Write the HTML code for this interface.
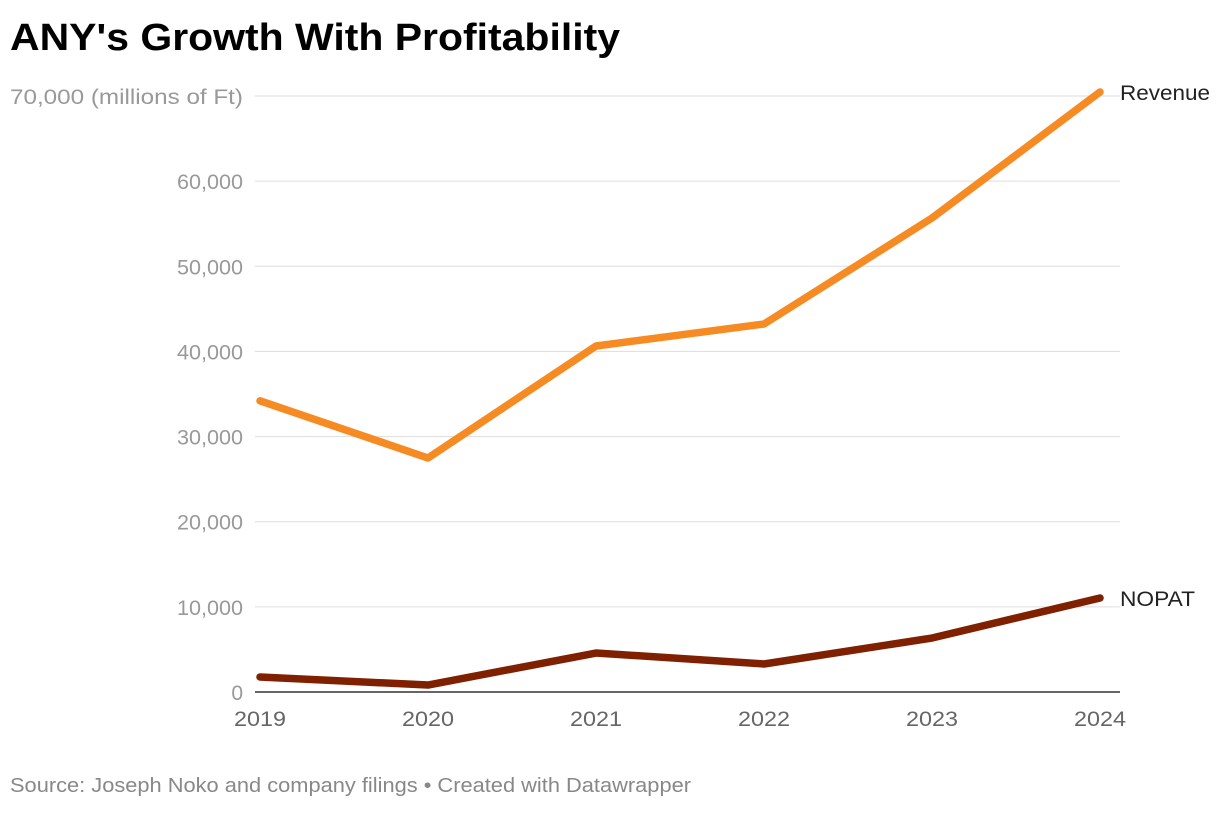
<!DOCTYPE html>
<html><head><meta charset="utf-8"><style>
body{margin:0;background:#fff;width:1220px;height:808px;overflow:hidden;font-family:"Liberation Sans",sans-serif}
</style></head><body>
<svg width="1220" height="808">
<text x="10" y="50" font-size="38" font-weight="bold" fill="#000" textLength="610" lengthAdjust="spacingAndGlyphs">ANY's Growth With Profitability</text>
<g id="grid"></g>
<g id="ylab"></g>
<g id="xlab"></g>
<g id="lines"></g>
<text x="10" y="792" font-size="20" fill="#888" textLength="681" lengthAdjust="spacingAndGlyphs">Source: Joseph Noko and company filings • Created with Datawrapper</text>
</svg>
<script>
const years=['2019','2020','2021','2022','2023','2024'];
const revenue=[34200,27480,40640,43220,55670,70470];
const nopat=[1760,820,4580,3290,6340,11040];
const yTicks=[0,10000,20000,30000,40000,50000,60000,70000];
const NS='http://www.w3.org/2000/svg';
const x=i=>260+i*168;
const y=v=>692-v/70000*596;
function mk(t,a,p){const e=document.createElementNS(NS,t);for(const k in a)e.setAttribute(k,a[k]);p.appendChild(e);return e;}
const g=document.getElementById('grid'),yl=document.getElementById('ylab'),xl=document.getElementById('xlab'),ln=document.getElementById('lines');
yTicks.forEach(v=>{
 const l=mk('line',{x1:255,x2:1120,y1:y(v),y2:y(v),stroke:v===0?'#333':'#ddd','stroke-width':v===0?1.5:1},g);
 
 
 const txt=v.toLocaleString('en-US')+(v===70000?' (millions of Ft)':'');
 const attrs={x:v===70000?10:243,y:y(v)+8,'font-size':21,fill:'#999','text-anchor':v===70000?'start':'end'};
 if(v===70000){attrs.textLength=233;attrs.lengthAdjust='spacingAndGlyphs';}
 else if(v>0){attrs.textLength=66;attrs.lengthAdjust='spacingAndGlyphs';}
 const t=mk('text',attrs,yl);
 t.textContent=txt;
 
 
});
years.forEach((yr,i)=>{
 const t=mk('text',{x:x(i),y:726,'font-size':21,fill:'#666','text-anchor':'middle',textLength:52,lengthAdjust:'spacingAndGlyphs'},xl);
 t.textContent=yr;
 
 
});
function series(vals,color,name,label,w){
 const p=mk('polyline',{points:vals.map((v,i)=>x(i)+','+y(v)).join(' '),fill:'none',stroke:color,'stroke-width':7.5,'stroke-linecap':'round','stroke-linejoin':'round'},ln);
 
 
 const t=mk('text',{x:1120,y:y(vals[vals.length-1])+8,'font-size':21,fill:'#222',textLength:w,lengthAdjust:'spacingAndGlyphs'},ln);
 t.textContent=label;
 
 
}
series(revenue,'#f68b24','revenue','Revenue',90);
series(nopat,'#7f2100','nopat','NOPAT',75);
</script>
</body></html>
